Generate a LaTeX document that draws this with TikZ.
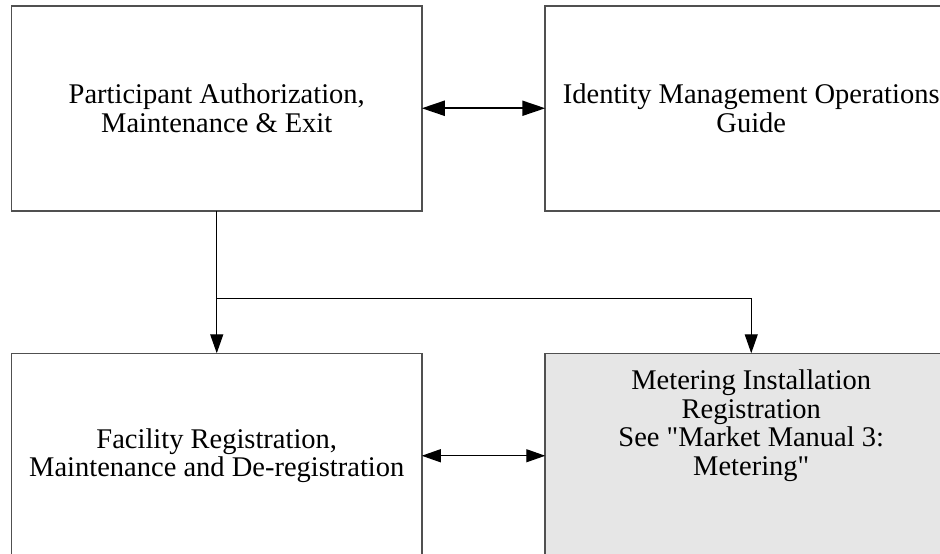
\documentclass[tikz,border=0pt]{standalone}
\usepackage{fontspec}
\setmainfont{Liberation Serif}[Ligatures=TeXOff]
\usetikzlibrary{matrix,arrows.meta,calc}
\definecolor{boxfill}{HTML}{E6E6E6}
\definecolor{boxline}{HTML}{505050}

\tikzset{
  box/.style={draw=boxline, line width=1.5pt, minimum height=205pt,
    inner sep=0pt, outer sep=0pt, align=center},
  tip/.style={-{Triangle[length=19pt,width=13pt]}},
  twotip/.style={{Triangle[length=19pt,width=13pt]}-{Triangle[length=19pt,width=13pt]}},
  bigtwotip/.style={{Triangle[length=23pt,width=15pt]}-{Triangle[length=23pt,width=15pt]}, line width=2pt},
}

\begin{document}
\begin{tikzpicture}[x=1pt,y=1pt,line width=1.3pt,font=\fontsize{28.5}{28.8}\selectfont]
  \useasboundingbox (0,0) rectangle (940,-554);
  \clip (0,0) rectangle (940,-554);
  \matrix (m) [anchor=north west, inner sep=0pt, outer sep=0pt,
    row sep=141pt, column sep=122pt] at (11,-5)
  { \node[box,minimum width=410pt] (pa) {Participant Authorization,\\ Maintenance \& Exit}; &
    \node[box,minimum width=412pt] (idm) {Identity Management Operations\\ Guide}; \\
    \node[box,minimum width=410pt] (fac) {Facility Registration,\\ Maintenance and De-registration}; &
    \node[box,minimum width=412pt,fill=boxfill] (met) {}; \\
  };
  \node[align=center] (mettext) at ([yshift=30pt]met.center)
    {Metering Installation\\ Registration\\ See "Market Manual 3:\\ Metering"};

  \coordinate (split) at ($(pa.south)+(0,-88)$);
  \draw (pa) -- (split);
  \draw[tip] (split) -- (fac);
  \draw[tip] (split) -| (met);
  \draw[bigtwotip] (pa) -- (idm);
  \draw[twotip] (fac) -- (met);
\end{tikzpicture}
\end{document}
